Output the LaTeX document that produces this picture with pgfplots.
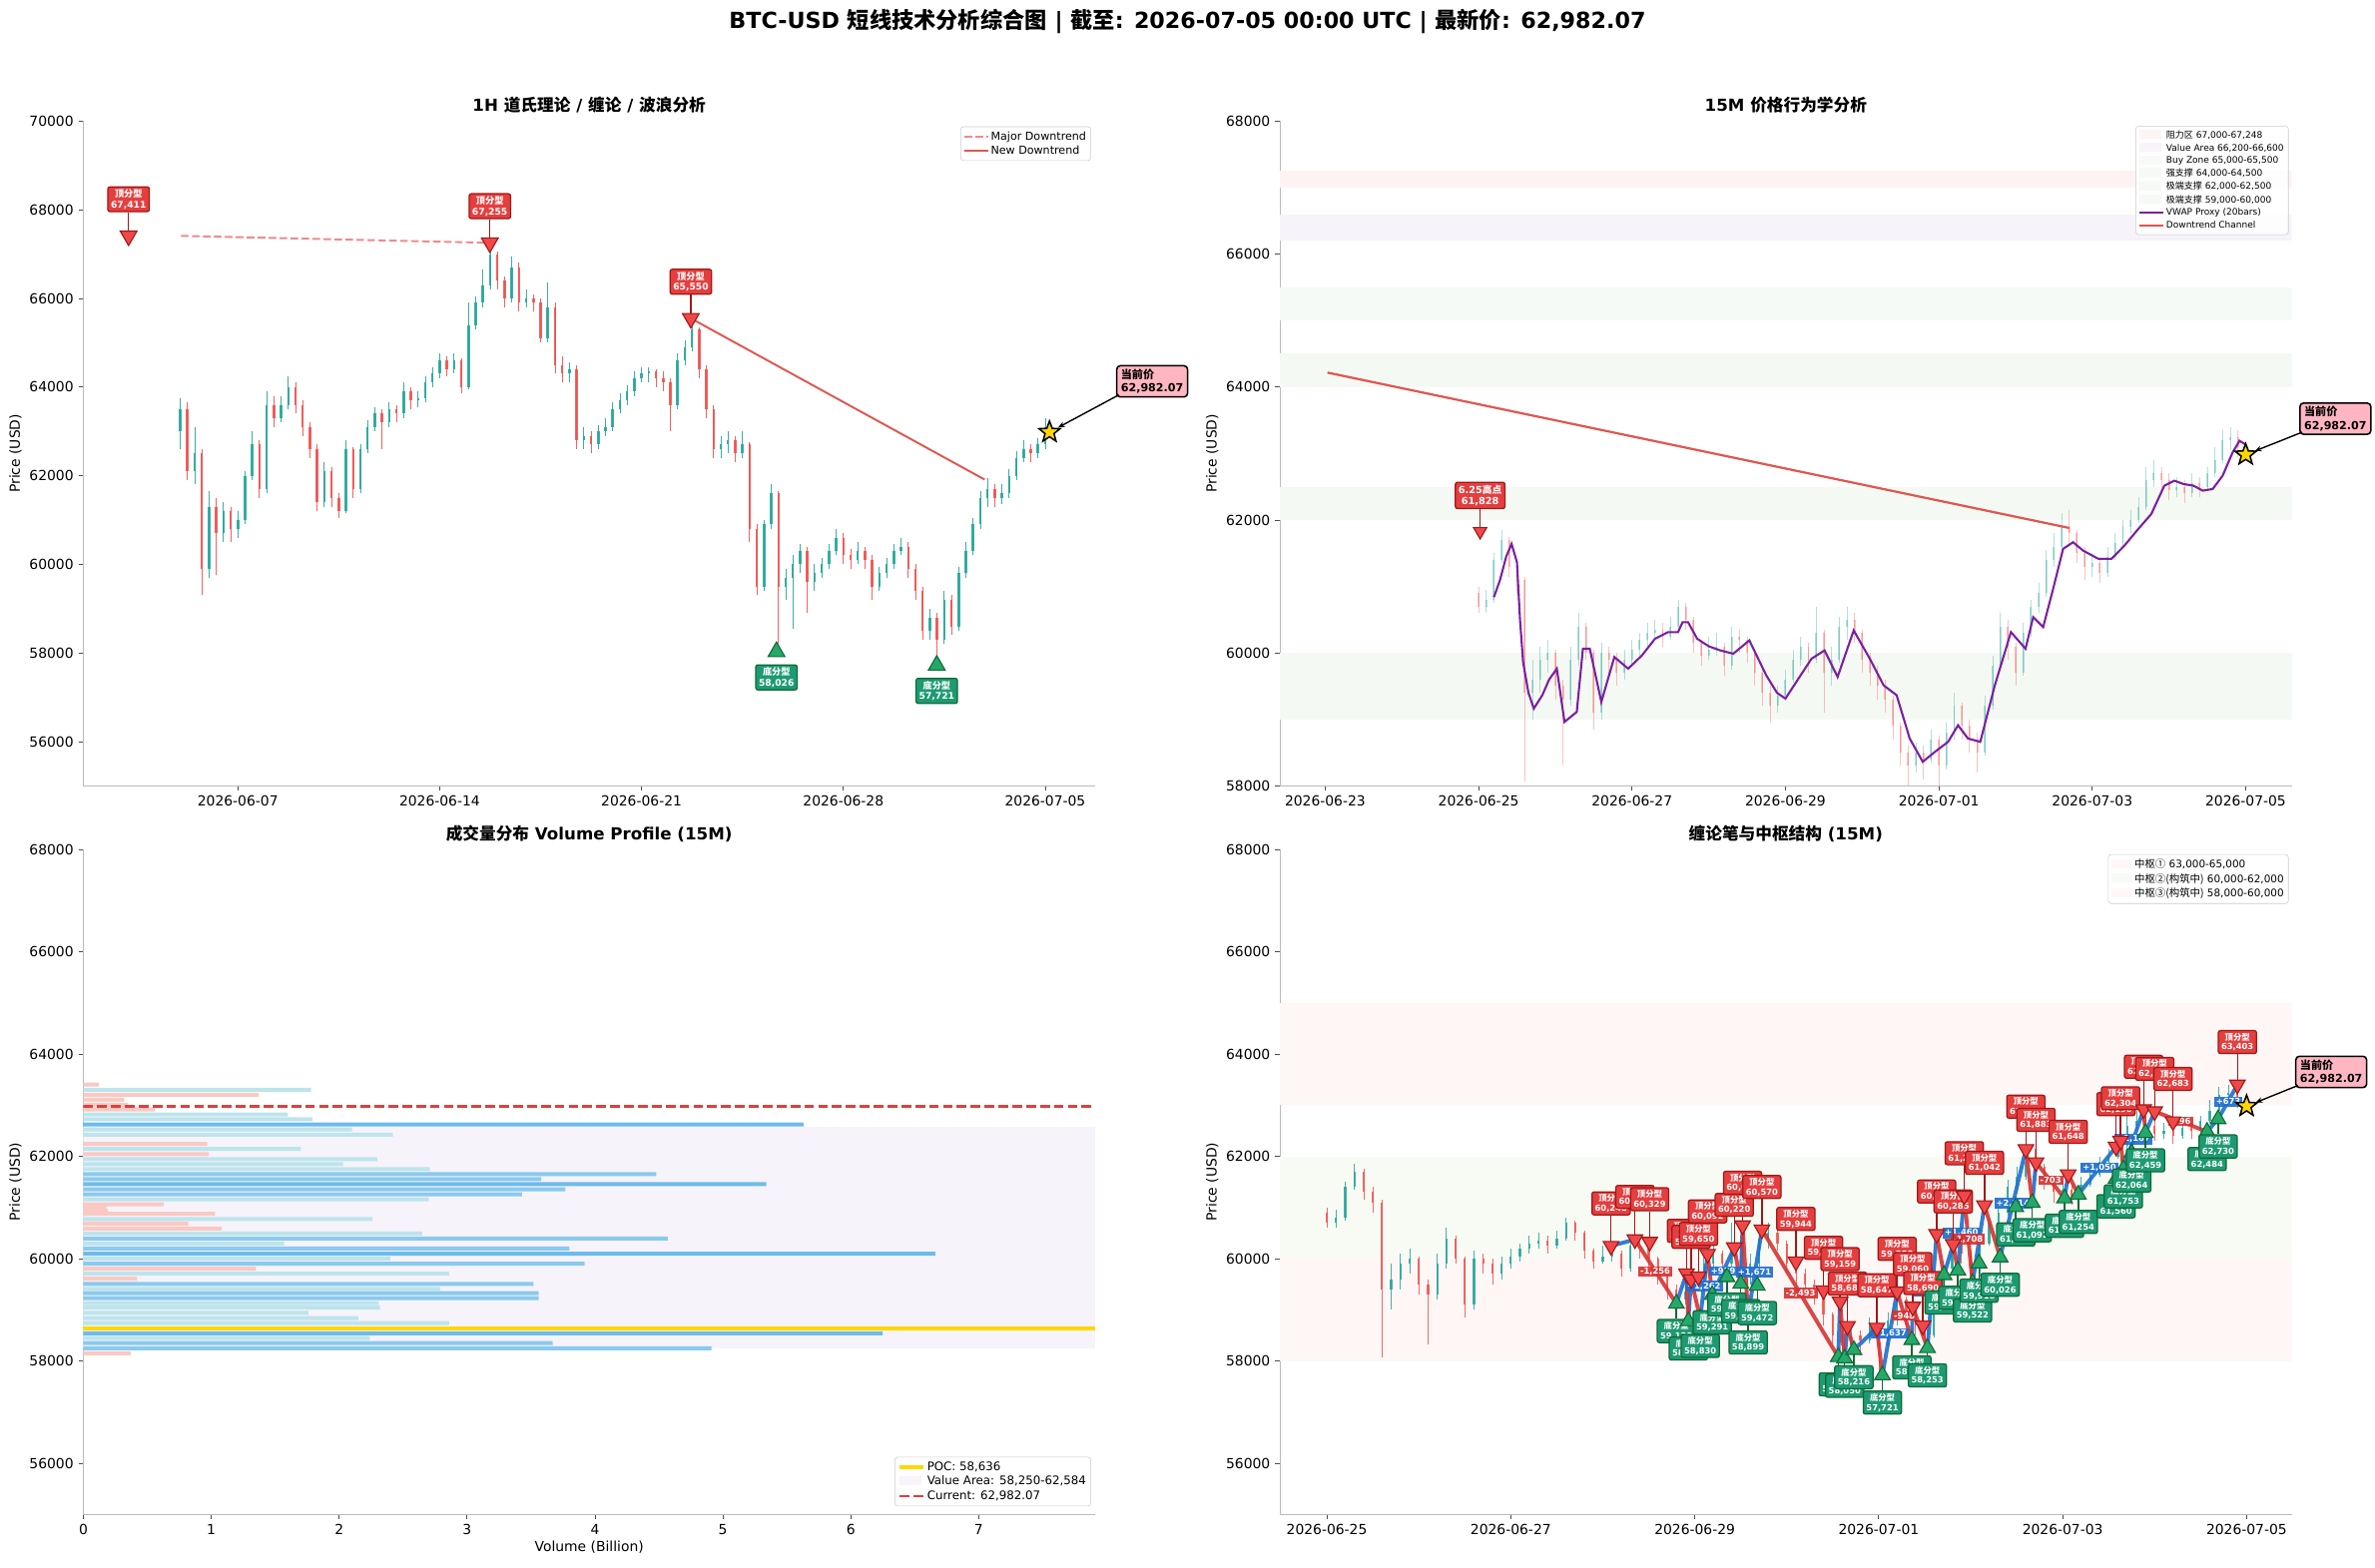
\documentclass[border=0pt]{standalone}
\usepackage{fontspec}
\setmainfont{DejaVu Sans}
\newfontfamily\cjk{Noto Sans CJK SC}
\usepackage{pgfplots}
\usepackage{pgfplotstable}
\pgfplotsset{compat=1.18}
\usetikzlibrary{arrows.meta}

% ---------- colours ----------
\definecolor{candleup}{HTML}{26A69A}
\definecolor{candledn}{HTML}{EF5350}
\definecolor{topfill}{HTML}{E53E3E}
\definecolor{topedge}{HTML}{A01818}
\definecolor{topmark}{HTML}{F04848}
\definecolor{botfill}{HTML}{1E9A72}
\definecolor{botedge}{HTML}{0E6B35}
\definecolor{botmark}{HTML}{25A86A}
\definecolor{bublue}{HTML}{1E6FD0}
\definecolor{bured}{HTML}{D63333}
\definecolor{vwap}{HTML}{7B1FA2}
\definecolor{trendred}{HTML}{E0574F}
\definecolor{majortrend}{HTML}{F08A8A}
\definecolor{pinkbox}{HTML}{FFB6C1}
\definecolor{starfill}{HTML}{FFD700}
\definecolor{spine}{HTML}{BBBBBB}
\definecolor{voldeep}{HTML}{6CBCEB}
\definecolor{volblue}{HTML}{8ACAEE}
\definecolor{vollight}{HTML}{BDE4EC}
\definecolor{volpink}{HTML}{F9C9C3}
\definecolor{vafill}{HTML}{F7F3FA}
\definecolor{poc}{HTML}{FFD700}
\definecolor{curred}{HTML}{E0403A}
\definecolor{zres}{HTML}{FDF3F3}
\definecolor{zva}{HTML}{F7F3FA}
\definecolor{zbuy}{HTML}{F6FAF6}
\definecolor{zstrong}{HTML}{F5F9F4}
\definecolor{zext}{HTML}{F5F9F4}
\definecolor{zsa}{HTML}{FFF6F6}
\definecolor{zsb}{HTML}{F8FBF4}
\definecolor{zsc}{HTML}{FFF6F6}

% filled five-pointed star mark
\pgfdeclareplotmark{fstar}{%
  \pgfpathmoveto{\pgfpointpolar{90}{\pgfplotmarksize}}%
  \pgfpathlineto{\pgfpointpolar{126}{0.42\pgfplotmarksize}}%
  \pgfpathlineto{\pgfpointpolar{162}{\pgfplotmarksize}}%
  \pgfpathlineto{\pgfpointpolar{198}{0.42\pgfplotmarksize}}%
  \pgfpathlineto{\pgfpointpolar{234}{\pgfplotmarksize}}%
  \pgfpathlineto{\pgfpointpolar{270}{0.42\pgfplotmarksize}}%
  \pgfpathlineto{\pgfpointpolar{306}{\pgfplotmarksize}}%
  \pgfpathlineto{\pgfpointpolar{342}{0.42\pgfplotmarksize}}%
  \pgfpathlineto{\pgfpointpolar{18}{\pgfplotmarksize}}%
  \pgfpathlineto{\pgfpointpolar{54}{0.42\pgfplotmarksize}}%
  \pgfpathclose
  \pgfusepathqfillstroke}

\tikzset{
  topbox/.style={align=center, text=white, fill=topfill, draw=topedge, line width=0.9pt,
    rounded corners=1.5pt, inner xsep=2.2pt, inner ysep=1.8pt},
  botbox/.style={align=center, text=white, fill=botfill, draw=botedge, line width=0.9pt,
    rounded corners=1.5pt, inner xsep=2.2pt, inner ysep=1.8pt},
  bilabel/.style={text=white, font=\fontsize{6}{7}\selectfont\bfseries, inner xsep=1.5pt,
    inner ysep=1.2pt, fill opacity=0.92, text opacity=1},
  curbox/.style={align=left, font=\fontsize{8}{9.5}\selectfont\bfseries, text=black,
    fill=pinkbox, draw=black, line width=1.1pt, rounded corners=2.5pt, inner xsep=3pt, inner ysep=2.5pt},
  pricelabel/.style={rotate=90, font=\fontsize{10}{12}\selectfont},
}

\pgfplotsset{
  panel/.style={
    scale only axis, width=729.7pt, height=479.5pt, anchor=south west,
    axis lines=left, axis line style={-, draw=spine, line width=0.8pt},
    tick align=outside, major tick length=3.5pt,
    tick style={draw=black!70, line width=0.6pt},
    tick label style={font=\fontsize{10}{12}\selectfont},
    /pgf/number format/assume math mode=true,
    scaled ticks=false,
    yticklabel style={/pgf/number format/fixed, /pgf/number format/1000 sep={}},
    title style={font=\fontsize{12}{14}\selectfont\bfseries, yshift=-4pt},
    every axis x label/.style={at={(axis description cs:0.5,0)}, anchor=north,
      yshift=-16pt, font=\fontsize{10}{12}\selectfont},
    clip mode=individual,
    legend cell align=left,
    legend style={draw=black!20, rounded corners=2pt, fill=white, fill opacity=0.85,
      text opacity=1, draw opacity=1, inner sep=2pt, nodes={inner sep=1.3pt}},
  },
  zonepatch/.style={area legend, legend image code/.code={%
      \fill[##1, draw=none, sharp corners] (0cm,-0.09cm) rectangle (0.55cm,0.14cm);}},
  nomark/.style={draw=none, mark=none},
}

% candlesticks: #1 table, #2 x offset, #3 wick width, #4 body width, #5 opacity
\newcommand{\candles}[5]{%
  \addplot[forget plot, nomark,
    restrict expr to domain={\thisrow{c}-\thisrow{o}}{0:1000000},
    error bars/.cd, y dir=plus, y explicit, error mark=none,
    error bar style={draw=candleup, line width=#3, draw opacity=#5}]
    table[x expr=\thisrow{t}-#2, y=l, y error plus expr=\thisrow{h}-\thisrow{l}] {#1};
  \addplot[forget plot, nomark,
    restrict expr to domain={\thisrow{c}-\thisrow{o}}{-1000000:-0.001},
    error bars/.cd, y dir=plus, y explicit, error mark=none,
    error bar style={draw=candledn, line width=#3, draw opacity=#5}]
    table[x expr=\thisrow{t}-#2, y=l, y error plus expr=\thisrow{h}-\thisrow{l}] {#1};
  \addplot[forget plot, nomark,
    restrict expr to domain={\thisrow{c}-\thisrow{o}}{0:1000000},
    error bars/.cd, y dir=plus, y explicit, error mark=none,
    error bar style={draw=candleup, line width=#4, draw opacity=#5}]
    table[x expr=\thisrow{t}-#2, y=o, y error plus expr=\thisrow{c}-\thisrow{o}] {#1};
  \addplot[forget plot, nomark,
    restrict expr to domain={\thisrow{c}-\thisrow{o}}{-1000000:-0.001},
    error bars/.cd, y dir=plus, y explicit, error mark=none,
    error bar style={draw=candledn, line width=#4, draw opacity=#5}]
    table[x expr=\thisrow{t}-#2, y=c, y error plus expr=\thisrow{o}-\thisrow{c}] {#1};
}

% ---------- 1H candles (t = days from 2026-06-07) ----------
\pgfplotstableread{
t o h l c
-2.00 63000 63750 62600 63500
-1.75 63500 63650 61900 62100
-1.50 62100 63100 61800 62500
-1.25 62500 62600 59300 59900
-1.00 59900 61650 59700 61300
-0.75 61300 61500 59750 60700
-0.50 60700 61400 60500 61200
-0.25 61200 61300 60500 60800
0.00 60800 61200 60600 61000
0.25 61000 62100 60900 62000
0.50 62000 63000 61900 62700
0.75 62700 62800 61500 61700
1.00 61700 63900 61600 63600
1.25 63600 63800 63100 63300
1.50 63300 63800 63200 63600
1.75 63600 64250 63500 64000
2.00 64000 64100 63400 63600
2.25 63600 63700 62900 63100
2.50 63100 63200 62400 62600
2.75 62600 62700 61200 61400
3.00 61400 62300 61300 62100
3.25 62100 62200 61300 61500
3.50 61500 61600 61050 61200
3.75 61200 62800 61150 62600
4.00 62600 62650 61500 61700
4.25 61700 62700 61600 62600
4.50 62600 63250 62500 63100
4.75 63100 63550 63000 63400
5.00 63400 63500 62600 63200
5.25 63200 63650 63100 63500
5.50 63500 63600 63200 63400
5.75 63400 64100 63300 63900
6.00 63900 64000 63500 63700
6.25 63700 63900 63550 63750
6.50 63750 64250 63650 64100
6.75 64100 64450 64000 64300
7.00 64300 64750 64200 64600
7.25 64600 64700 64250 64400
7.50 64400 64750 64300 64600
7.75 64600 64650 63850 64000
8.00 64000 65900 63950 65400
8.25 65400 66050 65300 65900
8.50 65900 66650 65800 66300
8.75 66300 67255 66200 67000
9.00 67000 67050 66200 66400
9.25 66400 66500 65800 66000
9.50 66000 66950 65900 66700
9.75 66700 66800 65700 65900
10.00 65900 66200 65800 66000
10.25 66000 66100 65700 65900
10.50 65900 66000 65000 65100
10.75 65100 66350 65000 65800
11.00 65800 65900 64300 64500
11.25 64500 64700 64100 64300
11.50 64300 64550 64100 64400
11.75 64400 64500 62600 62800
12.00 62800 63100 62600 62900
12.25 62900 63000 62500 62700
12.50 62700 63150 62600 63000
12.75 63000 63300 62900 63100
13.00 63100 63650 63000 63500
13.25 63500 63850 63400 63700
13.50 63700 64050 63600 63900
13.75 63900 64350 63800 64200
14.00 64200 64450 64100 64300
14.25 64300 64450 64100 64350
14.50 64350 64400 64000 64200
14.75 64200 64350 63900 64100
15.00 64100 64200 63000 63600
15.25 63600 64750 63500 64600
15.50 64600 65050 64500 64900
15.75 64900 65550 64800 65300
16.00 65300 65350 64200 64400
16.25 64400 64500 63300 63500
16.50 63500 63600 62400 62600
16.75 62600 62900 62400 62700
17.00 62700 63000 62500 62800
17.25 62800 62900 62300 62500
17.50 62500 63000 62400 62700
17.75 62700 62750 60500 60800
18.00 60800 60900 59300 59500
18.25 59500 61000 59400 60900
18.50 60900 61800 60800 61600
18.75 61600 61650 58026 59500
19.00 59500 59900 59200 59700
19.25 59700 60200 58550 60000
19.50 60000 60450 59800 60300
19.75 60300 60400 58900 59600
20.00 59600 60000 59400 59800
20.25 59800 60150 59700 60000
20.50 60000 60450 59900 60300
20.75 60300 60800 60200 60600
21.00 60600 60700 60000 60200
21.25 60200 60350 59900 60100
21.50 60100 60500 60000 60300
21.75 60300 60400 59900 60100
22.00 60100 60200 59200 59500
22.25 59500 59950 59400 59800
22.50 59800 60150 59700 60000
22.75 60000 60450 59900 60300
23.00 60300 60600 60200 60400
23.25 60400 60500 59700 59900
23.50 59900 60000 59200 59400
23.75 59400 59500 58300 58500
24.00 58500 59000 58300 58800
24.25 58800 58900 57721 58300
24.50 58300 59400 58200 59200
24.75 59200 59300 58400 58600
25.00 58600 59950 58500 59800
25.25 59800 60500 59700 60300
25.50 60300 61050 60200 60900
25.75 60900 61650 60800 61500
26.00 61500 61950 61300 61700
26.25 61700 61800 61300 61500
26.50 61500 61800 61350 61600
26.75 61600 62150 61500 62000
27.00 62000 62550 61900 62400
27.25 62400 62800 62300 62600
27.50 62600 62700 62300 62500
27.75 62500 62850 62400 62700
28.00 62700 63300 62600 63100
28.15 63100 63200 62900 62982.07
}\hourly

% ---------- 15M candles (t = days from 2026-06-23) ----------
\pgfplotstableread{
t o h l c
2.00 60900 61000 60600 60700
2.10 60700 60950 60600 60800
2.20 60800 61500 60750 61400
2.30 61400 61850 61350 61700
2.40 61700 61750 61150 61300
2.50 61300 61400 60900 61100
2.60 61100 61150 58070 59400
2.70 59400 59900 59000 59600
2.80 59600 60100 59400 59900
2.90 59900 60200 59700 60000
3.00 60000 60050 59300 59500
3.10 59500 59600 58320 59300
3.20 59300 60100 59200 59900
3.30 59900 60600 59800 60400
3.40 60400 60450 59900 60000
3.50 60000 60050 58850 59100
3.60 59100 60150 59000 60000
3.70 60000 60100 59700 59900
3.80 59900 60000 59500 59700
3.90 59700 60050 59600 59900
4.00 59900 60200 59800 60050
4.10 60050 60300 59950 60200
4.20 60200 60450 60100 60300
4.30 60300 60500 60200 60350
4.40 60350 60450 60100 60250
4.50 60250 60550 60200 60400
4.60 60400 60800 60350 60700
4.70 60700 60750 60350 60500
4.80 60500 60550 60000 60150
4.90 60150 60200 59800 59950
5.00 59950 60250 59900 60050
5.10 60050 60300 59950 60100
5.20 60100 60150 59650 59800
5.30 59800 60400 59750 60250
5.40 60250 60350 60000 60200
5.50 60200 60250 59850 60000
5.60 60000 60050 59500 59700
5.70 59700 59750 59200 59400
5.80 59400 59500 58950 59200
5.90 59200 59500 59100 59350
6.00 59350 59750 59300 59600
6.10 59600 60050 59550 59900
6.20 59900 60250 59800 60100
6.30 60100 60150 59700 59900
6.40 59900 60700 59850 60300
6.50 60300 60350 59100 59700
6.60 59700 60100 59500 59900
6.70 59900 60550 59850 60400
6.80 60400 60700 60200 60500
6.90 60500 60600 60150 60300
7.00 60300 60350 59700 59900
7.10 59900 60000 59500 59700
7.20 59700 59800 59300 59500
7.30 59500 59600 59100 59300
7.40 59300 59350 58700 58900
7.50 58900 58950 58300 58500
7.60 58500 58600 58000 58300
7.70 58300 58650 58200 58500
7.80 58500 58600 58100 58400
7.90 58400 58850 58350 58700
8.00 58700 58750 57721 58300
8.10 58300 58950 58250 58800
8.20 58800 59400 58700 59200
8.30 59200 59250 58700 58900
8.40 58900 59000 58500 58700
8.50 58700 58800 58200 58500
8.60 58500 59350 58450 59200
8.70 59200 59950 59150 59800
8.80 59800 60600 59750 60400
8.90 60400 60500 59900 60100
9.00 60100 60150 59500 59700
9.10 59700 60450 59650 60300
9.20 60300 60800 60250 60700
9.30 60700 61050 60600 60900
9.40 60900 61550 60850 61400
9.50 61400 61800 61300 61600
9.60 61600 62100 61550 61900
9.70 61900 62150 61600 61800
9.80 61800 61850 61350 61500
9.90 61500 61600 61100 61300
10.00 61300 61500 61150 61350
10.10 61350 61450 61050 61200
10.20 61200 61600 61150 61450
10.30 61450 61800 61400 61650
10.40 61650 62000 61600 61900
10.50 61900 62150 61800 62000
10.60 62000 62350 61950 62200
10.70 62200 62800 62150 62600
10.80 62600 62900 62500 62700
10.90 62700 62800 62400 62600
11.00 62600 62700 62300 62450
11.10 62450 62650 62350 62500
11.20 62500 62600 62250 62400
11.30 62400 62700 62350 62550
11.40 62550 62650 62350 62500
11.50 62500 62800 62450 62700
11.60 62700 63100 62650 62900
11.70 62900 63350 62850 63200
11.80 63200 63400 63050 63250
11.90 63250 63350 62950 63100
12.00 63100 63150 62900 62982.07
}\quarter

% ---------- fractals on the 15M chan chart (x = days from 2026-06-25) ----------
\pgfplotstableread{
x y
3.09 60248
3.35 60376
3.51 60329
3.91 59712
3.96 59594
4.04 59650
4.14 60092
4.43 60220
4.52 60650
4.73 60570
5.10 59944
5.40 59380
5.58 59159
5.66 58680
5.98 58647
6.20 59358
6.37 59060
6.48 58690
6.63 60480
6.81 60285
6.93 61230
7.15 61042
7.60 62140
7.71 61883
8.06 61648
8.58 62190
8.63 62304
8.88 62920
9.00 62880
9.20 62683
9.90 63403
}\chantops
\pgfplotstableread{
x y
3.80 59120
3.93 58780
4.06 58830
4.19 59291
4.35 59640
4.50 59510
4.58 58899
4.68 59472
5.56 58077
5.63 58050
5.73 58216
6.04 57721
6.36 58410
6.53 58253
6.71 59680
6.86 59770
7.02 59522
7.09 59910
7.32 60026
7.49 61010
7.67 61092
8.02 61180
8.17 61254
8.58 61560
8.66 61753
8.75 62064
8.90 62459
9.57 62484
9.69 62730
}\chanbots

\begin{document}
\begin{tikzpicture}
\useasboundingbox (0pt,0pt) rectangle (1712.9pt,-1131.1pt);

\node[font=\fontsize{16}{19}\selectfont\bfseries] at (856.4pt,-15.3pt)
  {BTC-USD {\cjk 短线技术分析综合图} | {\cjk 截至}: 2026-07-05 00:00 UTC | {\cjk 最新价}: 62,982.07};

% ================= 1H structure =================
\begin{axis}[panel, at={(60.08pt,-566.9pt)},
  xmin=-5.36, xmax=29.73, ymin=55000, ymax=70000,
  xtick={0,7,14,21,28},
  xticklabels={2026-06-07,2026-06-14,2026-06-21,2026-06-28,2026-07-05},
  ytick={56000,58000,...,70000},
  title={1H {\cjk 道氏理论} / {\cjk 缠论} / {\cjk 波浪分析}},
  legend style={at={(0.996,0.992)}, anchor=north east, font=\fontsize{8}{9.5}\selectfont},
]
\candles{\hourly}{0}{0.6pt}{1.8pt}{0.9}
\addplot[majortrend, line width=1.4pt, dash pattern=on 5.5pt off 2.4pt]
  coordinates {(-1.97,67411) (8.74,67255)};
\addlegendentry{Major Downtrend}
\addplot[trendred, line width=1.4pt] coordinates {(15.71,65550) (25.90,61912)};
\addlegendentry{New Downtrend}
% arrows of the top fractals
\addplot[forget plot, nomark,
  error bars/.cd, y dir=plus, y fixed=532, error mark=none,
  error bar style={draw=topedge, line width=1pt}]
  coordinates {(-3.79,67411) (8.74,67255) (15.71,65550)};
\addplot[forget plot, only marks, mark=triangle*, mark size=7pt,
  mark options={rotate=180, fill=topmark, draw=topedge, line width=0.8pt},
  point meta=y,
  nodes near coords={{\cjk 顶分型}\\\pgfmathprintnumber[fixed,precision=0,1000 sep={,}]{\pgfplotspointmeta}},
  every node near coord/.append style={topbox, font=\fontsize{6.6}{7.8}\selectfont\bfseries, anchor=south, yshift=17pt}]
  coordinates {(-3.79,67411) (8.74,67255) (15.71,65550)};
\addplot[forget plot, only marks, mark=triangle*, mark size=7pt,
  mark options={fill=botmark, draw=botedge, line width=0.8pt},
  point meta=y,
  nodes near coords={{\cjk 底分型}\\\pgfmathprintnumber[fixed,precision=0,1000 sep={,}]{\pgfplotspointmeta}},
  every node near coord/.append style={botbox, font=\fontsize{6.6}{7.8}\selectfont\bfseries, anchor=north, yshift=-9pt}]
  coordinates {(18.68,58026) (24.24,57721)};
\addplot[forget plot, only marks, mark=fstar, mark size=8pt,
  mark options={fill=starfill, draw=black, line width=1.1pt}]
  coordinates {(28.15,62982.07)};
\node[curbox] (cur1) at (axis cs:31.71,64128) {{\cjk 当前价}\\62,982.07};
\draw[-{Stealth[length=5pt,width=4pt]}, line width=1pt, shorten >=7pt]
  ([shift={(2pt,2pt)}]cur1.south west) -- (axis cs:28.15,62982.07);
\node[pricelabel] at (rel axis cs:-0.067,0.5) {Price (USD)};
\end{axis}

% ================= 15M price action =================
\begin{axis}[panel, at={(923.1pt,-566.9pt)},
  xmin=-0.59, xmax=12.6, ymin=58000, ymax=68000,
  xtick={0,2,...,12},
  xticklabels={2026-06-23,2026-06-25,2026-06-27,2026-06-29,2026-07-01,2026-07-03,2026-07-05},
  ytick={58000,60000,...,68000},
  title={15M {\cjk 价格行为学分析}},
  legend style={at={(0.997,0.993)}, anchor=north east, font=\fontsize{6.5}{7.5}\selectfont},
]
\addplot[draw=none, fill=zres, zonepatch] coordinates {(-0.59,67000) (12.6,67000) (12.6,67248) (-0.59,67248)} -- cycle;
\addlegendentry{{\cjk 阻力区} 67,000-67,248}
\addplot[draw=none, fill=zva, zonepatch] coordinates {(-0.59,66200) (12.6,66200) (12.6,66600) (-0.59,66600)} -- cycle;
\addlegendentry{Value Area 66,200-66,600}
\addplot[draw=none, fill=zbuy, zonepatch] coordinates {(-0.59,65000) (12.6,65000) (12.6,65500) (-0.59,65500)} -- cycle;
\addlegendentry{Buy Zone 65,000-65,500}
\addplot[draw=none, fill=zstrong, zonepatch] coordinates {(-0.59,64000) (12.6,64000) (12.6,64500) (-0.59,64500)} -- cycle;
\addlegendentry{{\cjk 强支撑} 64,000-64,500}
\addplot[draw=none, fill=zext, zonepatch] coordinates {(-0.59,62000) (12.6,62000) (12.6,62500) (-0.59,62500)} -- cycle;
\addlegendentry{{\cjk 极端支撑} 62,000-62,500}
\addplot[draw=none, fill=zext, zonepatch] coordinates {(-0.59,59000) (12.6,59000) (12.6,60000) (-0.59,60000)} -- cycle;
\addlegendentry{{\cjk 极端支撑} 59,000-60,000}
\candles{\quarter}{0}{0.5pt}{1.4pt}{0.35}
\addplot[vwap, line width=1.5pt] coordinates {
(2.20,60839) (2.28,61100) (2.36,61450) (2.43,61640) (2.50,61365) (2.54,60500) (2.58,59863)
(2.65,59400) (2.72,59163) (2.83,59363) (2.92,59600) (3.02,59763) (3.12,58962) (3.28,59112)
(3.36,60063) (3.45,60063) (3.60,59262) (3.77,59938) (3.95,59763) (4.13,59963) (4.30,60213)
(4.47,60313) (4.60,60313) (4.66,60463) (4.73,60463) (4.85,60213) (5.00,60100) (5.15,60038)
(5.32,59988) (5.53,60188) (5.75,59663) (5.89,59400) (6.00,59313) (6.17,59613) (6.34,59913)
(6.51,60038) (6.68,59638) (6.89,60338) (7.10,59913) (7.28,59513) (7.45,59363) (7.62,58712)
(7.79,58362) (7.95,58512) (8.12,58662) (8.25,58912) (8.38,58712) (8.54,58662) (8.73,59513)
(8.94,60313) (9.13,60063) (9.23,60538) (9.36,60388) (9.49,60964) (9.62,61565) (9.75,61665)
(9.88,61540) (10.08,61415) (10.25,61415) (10.42,61615) (10.60,61865) (10.77,62090)
(10.94,62516) (11.07,62591) (11.19,62541) (11.32,62516) (11.44,62441) (11.57,62466)
(11.70,62666) (11.83,63016) (11.92,63191) (11.99,63141)};
\addlegendentry{VWAP Proxy (20bars)}
\addplot[trendred, line width=1.6pt] coordinates {(0.03,64217) (9.70,61880)};
\addlegendentry{Downtrend Channel}
\addplot[forget plot, nomark,
  error bars/.cd, y dir=plus, y fixed=334, error mark=none,
  error bar style={draw=topedge, line width=1pt}]
  coordinates {(2.02,61828)};
\addplot[forget plot, only marks, mark=triangle*, mark size=5.5pt,
  mark options={rotate=180, fill=topmark, draw=topedge, line width=0.8pt},
  point meta=y,
  nodes near coords={6.25{\cjk 高点}\\\pgfmathprintnumber[fixed,precision=0,1000 sep={,}]{\pgfplotspointmeta}},
  every node near coord/.append style={topbox, font=\fontsize{7}{8.4}\selectfont\bfseries, anchor=south, yshift=16pt}]
  coordinates {(2.02,61828)};
\addplot[forget plot, only marks, mark=fstar, mark size=8pt,
  mark options={fill=starfill, draw=black, line width=1.1pt}]
  coordinates {(12.0,62982.07)};
\node[curbox] (cur2) at (axis cs:13.17,63524) {{\cjk 当前价}\\62,982.07};
\draw[-{Stealth[length=5pt,width=4pt]}, line width=1pt, shorten >=7pt]
  ([shift={(2pt,2pt)}]cur2.south west) -- (axis cs:12.0,62982.07);
\node[pricelabel] at (rel axis cs:-0.067,0.5) {Price (USD)};
\end{axis}

% ================= volume profile =================
\begin{axis}[panel, at={(60.08pt,-1092.4pt)},
  xmin=0, xmax=7.91, ymin=55000, ymax=68000,
  xtick={0,1,...,7},
  ytick={56000,58000,...,68000},
  xlabel={Volume (Billion)},
  title={{\cjk 成交量分布} Volume Profile (15M)},
  legend style={at={(0.996,0.012)}, anchor=south east, font=\fontsize{8.5}{10}\selectfont},
]
\addplot[forget plot, draw=none, fill=vafill] coordinates {(0,58250) (7.91,58250) (7.91,62584) (0,62584)} -- cycle;
\addplot[forget plot, xbar, bar width=78, bar shift=0pt, draw=none, fill=volpink] coordinates {
(0.12,63403) (1.37,63207) (0.32,63108) (0.35,63010) (0.56,62918) (0.97,62243) (0.98,62046)
(0.63,61062) (0.18,60984) (0.19,60931) (1.03,60879) (0.82,60689) (1.08,60590) (1.35,59803)
(0.42,59607) (0.37,58151)};
\addplot[forget plot, xbar, bar width=78, bar shift=0pt, draw=none, fill=vollight] coordinates {
(1.78,63305) (1.60,62820) (1.79,62728) (2.10,62525) (2.42,62426) (1.70,62144) (2.30,61948)
(2.03,61849) (2.71,61751) (2.70,61161) (2.26,60774) (2.65,60492) (1.57,60295) (2.40,60000)
(2.86,59705) (2.79,59410) (2.31,59128) (2.32,59043) (1.76,58938) (2.15,58839) (2.86,58741)
(2.24,58446)};
\addplot[forget plot, xbar, bar width=78, bar shift=0pt, draw=none, fill=volblue] coordinates {
(4.48,61652) (3.58,61554) (3.77,61357) (3.43,61259) (4.57,60393) (3.80,60197) (3.92,59902)
(3.52,59508) (3.56,59325) (3.56,59226) (3.67,58348) (4.91,58249)};
\addplot[forget plot, xbar, bar width=78, bar shift=0pt, draw=none, fill=voldeep] coordinates {
(5.63,62623) (5.34,61456) (6.66,60098) (6.25,58538)};
\addplot[poc, line width=3pt] coordinates {(0,58636) (7.91,58636)};
\addlegendentry{POC: 58,636}
\addlegendimage{zonepatch, draw=none, fill=vafill}
\addlegendentry{Value Area: 58,250-62,584}
\addplot[curred, line width=2pt, dash pattern=on 7pt off 3pt] coordinates {(0,62982.07) (7.91,62982.07)};
\addlegendentry{Current: 62,982.07}
\node[pricelabel] at (rel axis cs:-0.067,0.5) {Price (USD)};
\end{axis}

% ================= chan strokes and pivots =================
\begin{axis}[panel, at={(923.1pt,-1092.4pt)},
  xmin=-0.51, xmax=10.49, ymin=55000, ymax=68000,
  xtick={0,2,...,10},
  xticklabels={2026-06-25,2026-06-27,2026-06-29,2026-07-01,2026-07-03,2026-07-05},
  ytick={56000,58000,...,68000},
  title={{\cjk 缠论笔与中枢结构} (15M)},
  legend style={at={(0.997,0.993)}, anchor=north east, font=\fontsize{7.5}{9}\selectfont},
  unbounded coords=jump,
]
\addplot[draw=none, fill=zsa, zonepatch] coordinates {(-0.51,63000) (10.49,63000) (10.49,65000) (-0.51,65000)} -- cycle;
\addlegendentry{{\cjk 中枢①} 63,000-65,000}
\addplot[draw=none, fill=zsb, zonepatch] coordinates {(-0.51,60000) (10.49,60000) (10.49,62000) (-0.51,62000)} -- cycle;
\addlegendentry{{\cjk 中枢②(构筑中)} 60,000-62,000}
\addplot[draw=none, fill=zsc, zonepatch] coordinates {(-0.51,58000) (10.49,58000) (10.49,60000) (-0.51,60000)} -- cycle;
\addlegendentry{{\cjk 中枢③(构筑中)} 58,000-60,000}
\candles{\quarter}{2}{0.5pt}{1.6pt}{0.85}
% rising strokes
\addplot[forget plot, bublue, line width=2.8pt, opacity=0.9, line join=round] coordinates {
(3.09,60248) (3.35,60376) (3.36,nan)
(3.80,59120) (3.91,59712) (3.92,nan)
(3.93,58780) (3.96,59594) (3.97,nan)
(4.06,58830) (4.14,60092) (4.15,nan)
(4.19,59291) (4.43,60220) (4.44,nan)
(4.50,59510) (4.52,60650) (4.53,nan)
(4.58,58899) (4.73,60570) (4.74,nan)
(5.56,58077) (5.58,59159) (5.59,nan)
(5.63,58050) (5.66,58680) (5.67,nan)
(5.73,58216) (5.98,58647) (5.99,nan)
(6.04,57721) (6.20,59358) (6.21,nan)
(6.36,58410) (6.37,59060) (6.38,nan)
(6.53,58253) (6.63,60480) (6.64,nan)
(6.71,59680) (6.81,60285) (6.82,nan)
(6.86,59770) (6.93,61230) (6.94,nan)
(7.02,59522) (7.15,61042) (7.16,nan)
(7.32,60026) (7.60,62140) (7.61,nan)
(7.67,61092) (7.71,61883) (7.72,nan)
(8.02,61180) (8.06,61648) (8.07,nan)
(8.17,61254) (8.63,62304) (8.64,nan)
(8.66,61753) (8.88,62920) (8.89,nan)
(8.90,62459) (9.00,62880) (9.01,nan)
(9.57,62484) (9.69,62730) (9.90,63403)};
% falling strokes
\addplot[forget plot, bured, line width=2.8pt, opacity=0.9, line join=round] coordinates {
(3.35,60376) (3.80,59120) (3.81,nan)
(3.91,59712) (3.93,58780) (3.94,nan)
(3.96,59594) (4.06,58830) (4.07,nan)
(4.14,60092) (4.19,59291) (4.20,nan)
(4.43,60220) (4.50,59510) (4.51,nan)
(4.52,60650) (4.58,58899) (4.59,nan)
(4.73,60570) (5.56,58077) (5.57,nan)
(5.58,59159) (5.63,58050) (5.64,nan)
(5.66,58680) (5.73,58216) (5.74,nan)
(5.98,58647) (6.04,57721) (6.05,nan)
(6.20,59358) (6.36,58410) (6.37,nan)
(6.37,59060) (6.53,58253) (6.54,nan)
(6.63,60480) (6.71,59680) (6.72,nan)
(6.81,60285) (6.86,59770) (6.87,nan)
(6.93,61230) (7.02,59522) (7.03,nan)
(7.15,61042) (7.32,60026) (7.33,nan)
(7.60,62140) (7.67,61092) (7.68,nan)
(7.71,61883) (8.02,61180) (8.03,nan)
(8.06,61648) (8.17,61254) (8.18,nan)
(8.63,62304) (8.66,61753) (8.67,nan)
(8.88,62920) (8.90,62459) (8.91,nan)
(9.00,62880) (9.57,62484)};
% stroke sizes
\addplot[forget plot, nomark, point meta=explicit symbolic, nodes near coords,
  every node near coord/.append style={bilabel, fill=bublue, anchor=center}] coordinates {
(4.10,59461) [+1,262] (4.31,59756) [+929] (4.65,59735) [+1,671] (6.12,58540) [+1,637]
(6.58,59367) [+2,227] (6.90,60500) [+1,460] (7.46,61083) [+2,114] (8.40,61779) [+1,050]
(8.77,62337) [+1,167] (9.80,63067) [+673]};
\addplot[forget plot, nomark, point meta=explicit symbolic, nodes near coords,
  every node near coord/.append style={bilabel, fill=bured, anchor=center}] coordinates {
(3.57,59748) [-1,256] (5.15,59324) [-2,493] (6.28,58884) [-948] (6.97,60376) [-1,708]
(7.87,61532) [-703] (9.28,62682) [-396]};
% fractal arrows, markers and labels
\addplot[forget plot, nomark,
  error bars/.cd, y dir=plus, y fixed=597, error mark=none,
  error bar style={draw=topedge, line width=1pt}] table {\chantops};
\addplot[forget plot, nomark,
  error bars/.cd, y dir=minus, y fixed=298, error mark=none,
  error bar style={draw=botedge, line width=1pt}] table {\chanbots};
\addplot[forget plot, only marks, mark=triangle*, mark size=6.5pt,
  mark options={rotate=180, fill=topmark, draw=topedge, line width=0.8pt},
  point meta=y,
  nodes near coords={{\cjk 顶分型}\\\pgfmathprintnumber[fixed,precision=0,1000 sep={,}]{\pgfplotspointmeta}},
  every node near coord/.append style={topbox, font=\fontsize{6}{7}\selectfont\bfseries, anchor=south, yshift=22pt}]
  table {\chantops};
\addplot[forget plot, only marks, mark=triangle*, mark size=6.5pt,
  mark options={fill=botmark, draw=botedge, line width=0.8pt},
  point meta=y,
  nodes near coords={{\cjk 底分型}\\\pgfmathprintnumber[fixed,precision=0,1000 sep={,}]{\pgfplotspointmeta}},
  every node near coord/.append style={botbox, font=\fontsize{6}{7}\selectfont\bfseries, anchor=north, yshift=-11pt}]
  table {\chanbots};
\addplot[forget plot, only marks, mark=fstar, mark size=8pt,
  mark options={fill=starfill, draw=black, line width=1.1pt}]
  coordinates {(10.0,62982.07)};
\node[curbox] (cur4) at (axis cs:10.92,63652) {{\cjk 当前价}\\62,982.07};
\draw[-{Stealth[length=5pt,width=4pt]}, line width=1pt, shorten >=7pt]
  ([shift={(2pt,2pt)}]cur4.south west) -- (axis cs:10.0,62982.07);
\node[pricelabel] at (rel axis cs:-0.067,0.5) {Price (USD)};
\end{axis}
\end{tikzpicture}
\end{document}
